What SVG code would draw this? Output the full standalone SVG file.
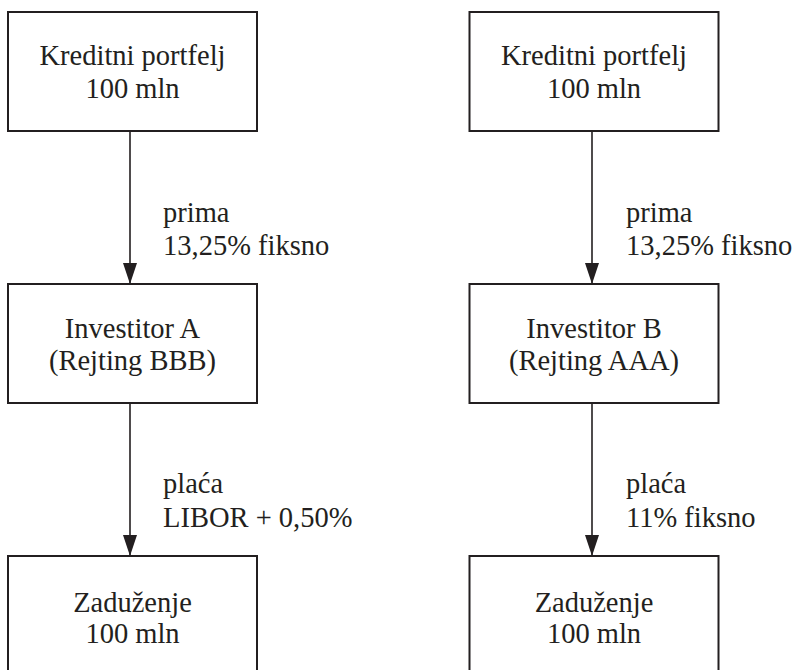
<svg xmlns="http://www.w3.org/2000/svg" width="804" height="670" viewBox="0 0 804 670" font-family="Liberation Serif, Times New Roman, DejaVu Serif, serif">
<style>
.box{fill:#fff;stroke:#231f20;stroke-width:2}
.t{font-size:28.5px;fill:#231f20}
.c{text-anchor:middle}
.ln{stroke:#231f20;stroke-width:1.6;fill:none}
</style>
<defs>
<marker id="ah" markerUnits="userSpaceOnUse" markerWidth="22" markerHeight="14" refX="21" refY="7" orient="auto" viewBox="0 0 21 14">
<path d="M0,0 L21,7 L0,14 Z" fill="#231f20"/>
</marker>
</defs>
<rect width="804" height="670" fill="#fff"/>
<g id="connectors">
<line class="ln" x1="130" y1="131" x2="130" y2="284" marker-end="url(#ah)"/>
<line class="ln" x1="130" y1="403" x2="130" y2="556" marker-end="url(#ah)"/>
<line class="ln" x1="592" y1="131" x2="592" y2="284" marker-end="url(#ah)"/>
<line class="ln" x1="592" y1="403" x2="592" y2="556" marker-end="url(#ah)"/>
<text class="t" x="163" y="222">prima</text>
<text class="t" x="163" y="255">13,25% fiksno</text>
<text class="t" x="163" y="493">plaća</text>
<text class="t" x="163" y="527">LIBOR + 0,50%</text>
<text class="t" x="626" y="222">prima</text>
<text class="t" x="626" y="255">13,25% fiksno</text>
<text class="t" x="626" y="493">plaća</text>
<text class="t" x="626" y="527">11% fiksno</text>
</g>
<g id="kp-a">
<rect class="box" x="8" y="12" width="249" height="119"/>
<text class="t c" x="132.5" y="65">Kreditni portfelj</text>
<text class="t c" x="132.5" y="98">100 mln</text>
</g>
<g id="inv-a">
<rect class="box" x="8" y="284" width="249" height="119"/>
<text class="t c" x="132.5" y="338">Investitor A</text>
<text class="t c" x="132.5" y="370">(Rejting BBB)</text>
</g>
<g id="zad-a">
<rect class="box" x="8" y="556" width="249" height="130"/>
<text class="t c" x="132.5" y="612">Zaduženje</text>
<text class="t c" x="132.5" y="643">100 mln</text>
</g>
<g id="kp-b">
<rect class="box" x="469.5" y="12" width="249" height="119"/>
<text class="t c" x="594" y="65">Kreditni portfelj</text>
<text class="t c" x="594" y="98">100 mln</text>
</g>
<g id="inv-b">
<rect class="box" x="469.5" y="284" width="249" height="119"/>
<text class="t c" x="594" y="338">Investitor B</text>
<text class="t c" x="594" y="370">(Rejting AAA)</text>
</g>
<g id="zad-b">
<rect class="box" x="469.5" y="556" width="249" height="130"/>
<text class="t c" x="594" y="612">Zaduženje</text>
<text class="t c" x="594" y="643">100 mln</text>
</g>
</svg>
